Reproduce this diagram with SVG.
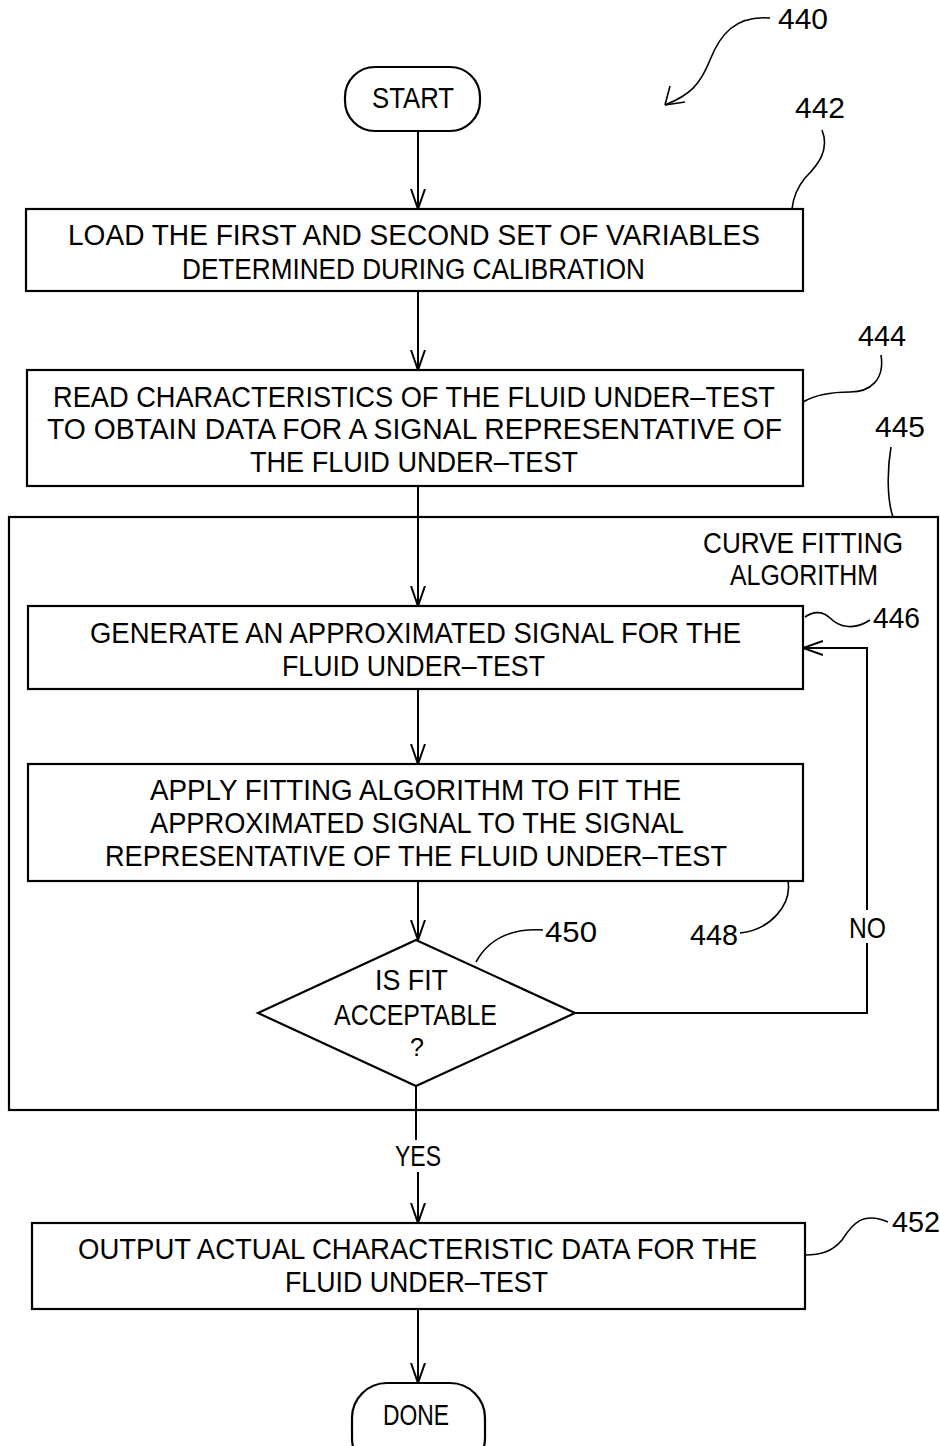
<svg xmlns="http://www.w3.org/2000/svg" width="940" height="1446" viewBox="0 0 940 1446">
<defs>
<marker id="ah" viewBox="0 0 20 20" refX="20" refY="10" markerWidth="20" markerHeight="20" markerUnits="userSpaceOnUse" orient="auto">
<path d="M0,3 L20,10 L0,17" fill="none" stroke="#000" stroke-width="2"/>
</marker>
</defs>
<style>
rect,polygon{fill:#fff;stroke:#000;stroke-width:2.2}
.c{fill:none;stroke:#000;stroke-width:2}
.l{fill:none;stroke:#000;stroke-width:1.6}
text{font-family:"Liberation Sans",Arial,sans-serif;font-size:29px;fill:#000}
.m{text-anchor:middle}
</style>
<rect x="0" y="0" width="940" height="1446" style="fill:#fff;stroke:none"/>
<g id="group445"><rect x="9" y="517" width="929" height="593"/>
<text x="703" y="553" textLength="200" lengthAdjust="spacingAndGlyphs">CURVE FITTING</text>
<text x="730" y="585" textLength="148" lengthAdjust="spacingAndGlyphs">ALGORITHM</text></g>
<g id="start"><rect x="345" y="67" width="135" height="64" rx="30"/>
<text x="372" y="108" textLength="82" lengthAdjust="spacingAndGlyphs">START</text></g>
<g id="n442"><rect x="26" y="209" width="777" height="82"/>
<text x="68" y="245" textLength="692" lengthAdjust="spacingAndGlyphs">LOAD THE FIRST AND SECOND SET OF VARIABLES</text>
<text x="182" y="279" textLength="463" lengthAdjust="spacingAndGlyphs">DETERMINED DURING CALIBRATION</text></g>
<g id="n444"><rect x="27" y="370" width="776" height="116"/>
<text x="53" y="407" textLength="722" lengthAdjust="spacingAndGlyphs">READ CHARACTERISTICS OF THE FLUID UNDER–TEST</text>
<text x="47" y="439" textLength="735" lengthAdjust="spacingAndGlyphs">TO OBTAIN DATA FOR A SIGNAL REPRESENTATIVE OF</text>
<text x="250" y="472" textLength="328" lengthAdjust="spacingAndGlyphs">THE FLUID UNDER–TEST</text></g>
<g id="n446"><rect x="28" y="606" width="775" height="83"/>
<text x="90" y="643" textLength="651" lengthAdjust="spacingAndGlyphs">GENERATE AN APPROXIMATED SIGNAL FOR THE</text>
<text x="282" y="676" textLength="263" lengthAdjust="spacingAndGlyphs">FLUID UNDER–TEST</text></g>
<g id="n448"><rect x="28" y="764" width="775" height="117"/>
<text x="150" y="800" textLength="531" lengthAdjust="spacingAndGlyphs">APPLY FITTING ALGORITHM TO FIT THE</text>
<text x="150" y="833" textLength="534" lengthAdjust="spacingAndGlyphs">APPROXIMATED SIGNAL TO THE SIGNAL</text>
<text x="105" y="866" textLength="622" lengthAdjust="spacingAndGlyphs">REPRESENTATIVE OF THE FLUID UNDER–TEST</text></g>
<g id="n450"><polygon points="416,940 575,1013 416,1086 258,1013"/>
<text x="375" y="990" textLength="73" lengthAdjust="spacingAndGlyphs">IS FIT</text>
<text x="334" y="1025" textLength="163" lengthAdjust="spacingAndGlyphs">ACCEPTABLE</text>
<text x="417" y="1056" class="m" style="font-size:25px">?</text></g>
<g id="n452"><rect x="32" y="1223" width="773" height="86"/>
<text x="78" y="1259" textLength="679" lengthAdjust="spacingAndGlyphs">OUTPUT ACTUAL CHARACTERISTIC DATA FOR THE</text>
<text x="285" y="1292" textLength="263" lengthAdjust="spacingAndGlyphs">FLUID UNDER–TEST</text></g>
<g id="done"><rect x="352" y="1383" width="133" height="90" rx="35"/>
<text x="383" y="1425" textLength="66" lengthAdjust="spacingAndGlyphs">DONE</text></g>
<g id="connectors">
<path class="c" d="M418,131 V209" marker-end="url(#ah)"/>
<path class="c" d="M418,291 V370" marker-end="url(#ah)"/>
<path class="c" d="M418,486 V606" marker-end="url(#ah)"/>
<path class="c" d="M418,689 V764" marker-end="url(#ah)"/>
<path class="c" d="M418,881 V940" marker-end="url(#ah)"/>
<path class="c" d="M575,1013 H867 V943 M867,910 V648 H803" marker-end="url(#ah)"/>
<path class="c" d="M416,1086 V1140"/>
<path class="c" d="M418,1172 V1223" marker-end="url(#ah)"/>
<path class="c" d="M418,1309 V1383" marker-end="url(#ah)"/>
<text x="849" y="938" textLength="37" lengthAdjust="spacingAndGlyphs">NO</text>
<text x="395" y="1166" textLength="46" lengthAdjust="spacingAndGlyphs">YES</text>
</g>
<g id="refs">
<path class="l" d="M770,18 C735,15 720,35 710,60 C700,85 690,95 665,105"/>
<path class="l" d="M665,105 L670,86 M665,105 L685,102"/>
<text x="778" y="29" textLength="50" lengthAdjust="spacingAndGlyphs">440</text>
<text x="795" y="118" textLength="50" lengthAdjust="spacingAndGlyphs">442</text>
<path class="l" d="M822,130 C830,150 818,165 805,178 C795,190 793,200 792,209"/>
<text x="858" y="346" textLength="48" lengthAdjust="spacingAndGlyphs">444</text>
<path class="l" d="M881,355 C885,380 870,392 850,392 C830,392 815,395 803,402"/>
<text x="875" y="437" textLength="50" lengthAdjust="spacingAndGlyphs">445</text>
<path class="l" d="M891,447 C887,470 887,500 893,517"/>
<text x="873" y="628" textLength="47" lengthAdjust="spacingAndGlyphs">446</text>
<path class="l" d="M870,620 C855,630 840,628 830,618 C822,610 812,612 805,617"/>
<text x="690" y="945" textLength="48" lengthAdjust="spacingAndGlyphs">448</text>
<path class="l" d="M740,933 C770,930 792,905 788,881"/>
<text x="545" y="942" textLength="52" lengthAdjust="spacingAndGlyphs">450</text>
<path class="l" d="M543,930 C510,928 488,940 476,962"/>
<text x="892" y="1232" textLength="48" lengthAdjust="spacingAndGlyphs">452</text>
<path class="l" d="M888,1222 C860,1210 850,1228 842,1240 C832,1252 820,1255 805,1255"/>
</g>
</svg>
